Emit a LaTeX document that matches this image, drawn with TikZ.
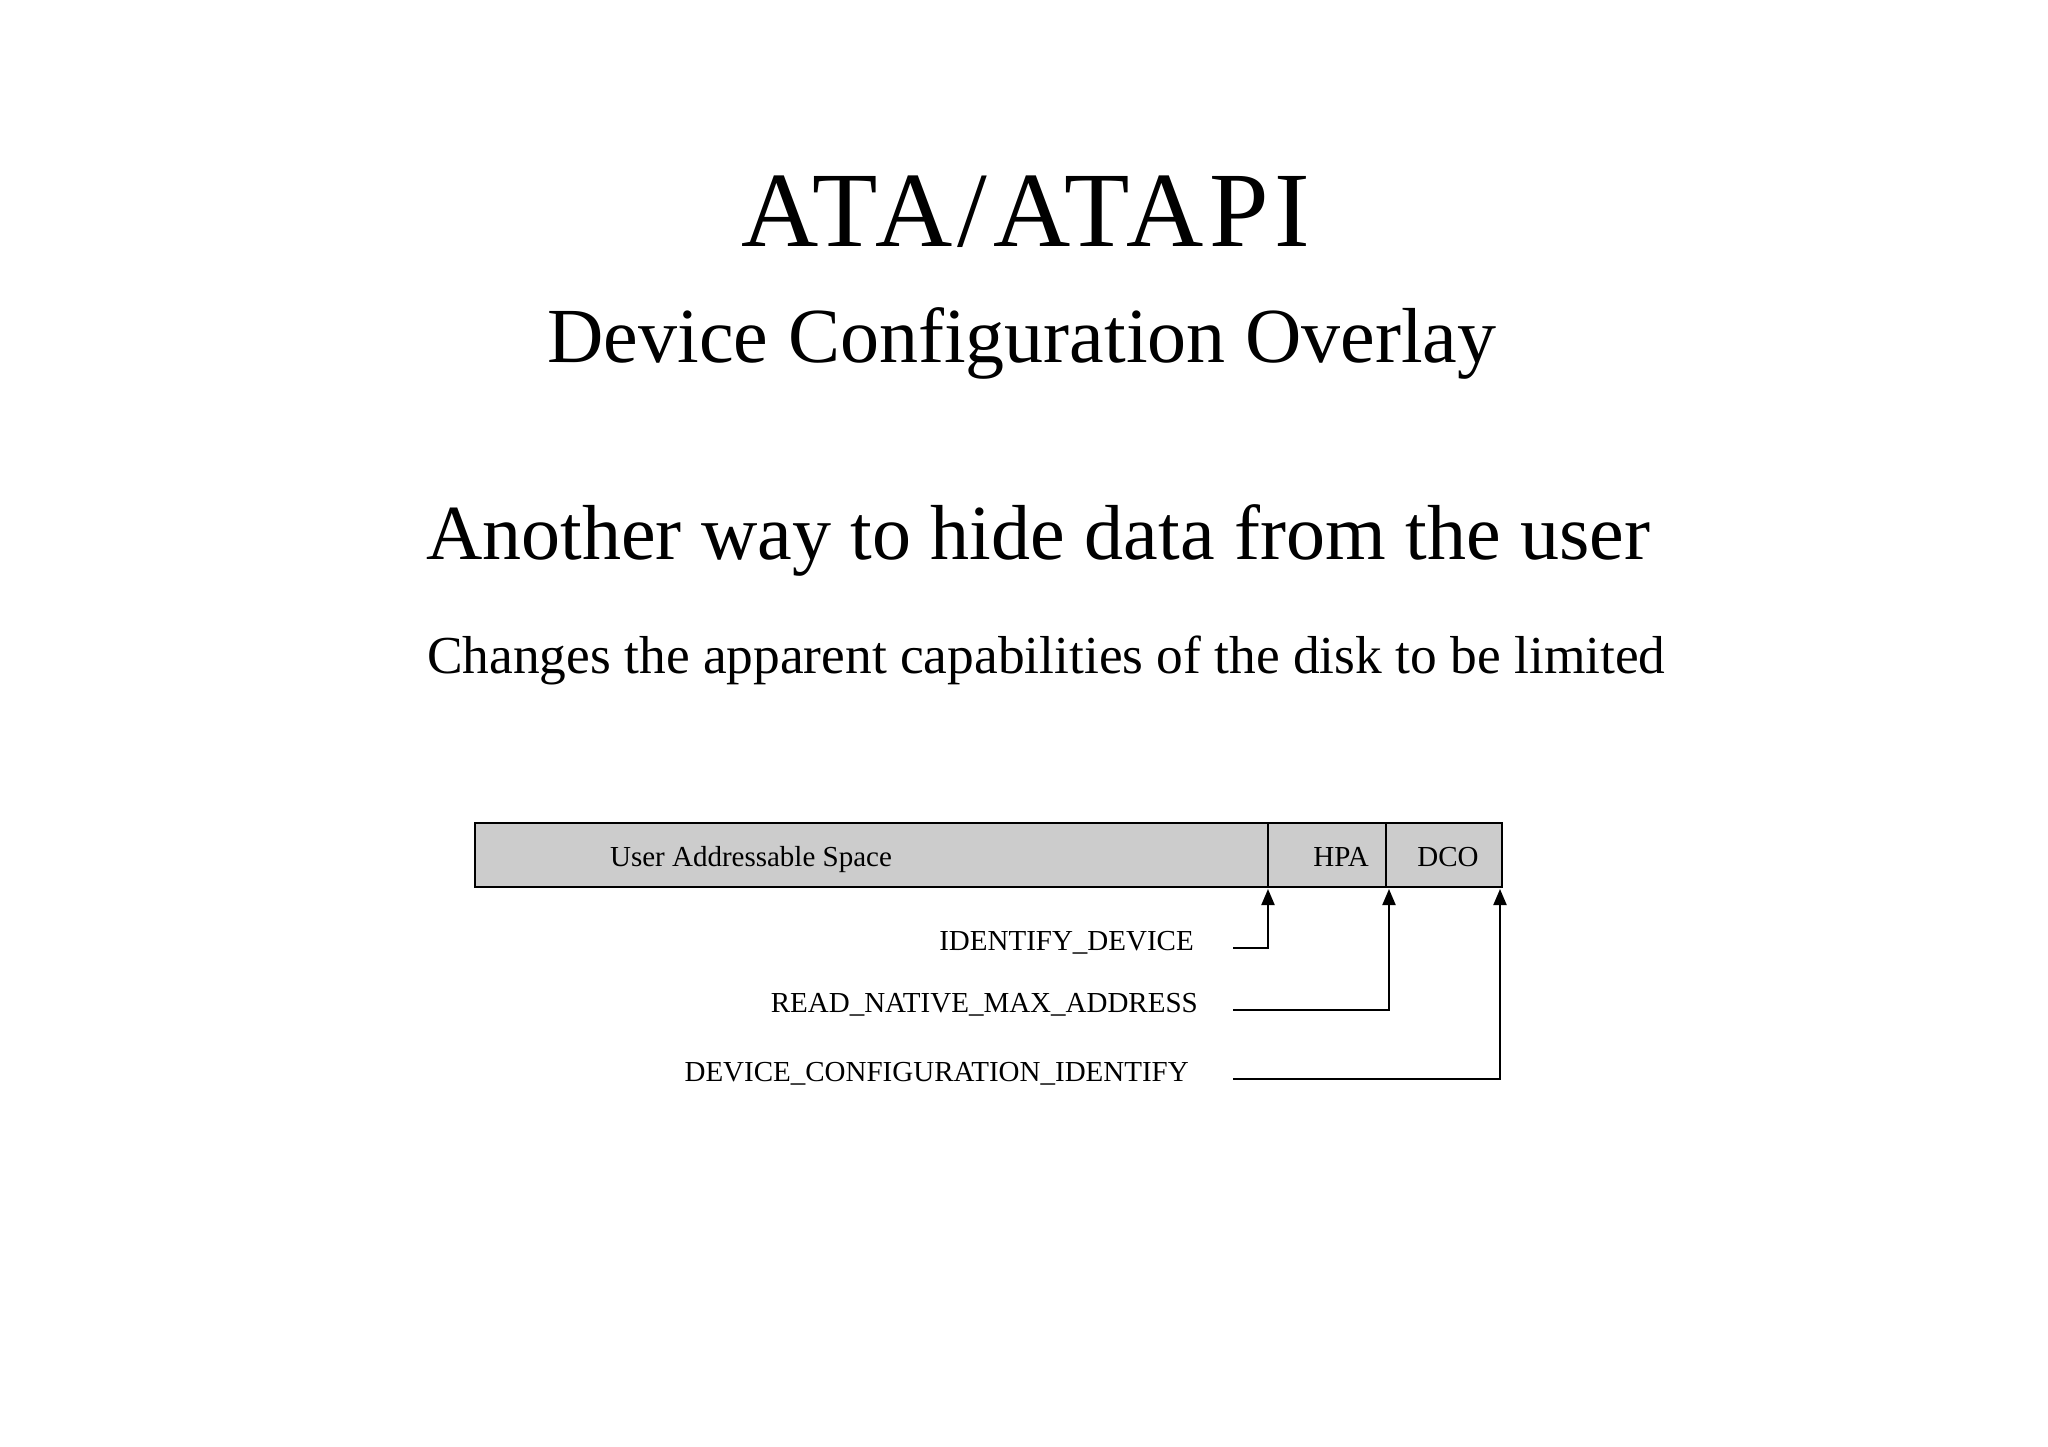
\documentclass[tikz,border=0pt]{standalone}
\usepackage{fontspec}
\setmainfont{Liberation Serif}
\usetikzlibrary{arrows.meta}
\tikzset{
  seg/.style={draw=black, line width=1.8pt, fill=barfill, minimum height=64pt, inner sep=0pt, outer sep=0pt, anchor=north west},
  small/.style={inner sep=0pt, font=\fontsize{29}{32}\selectfont},
  conn/.style={line width=2pt, -{Triangle[length=16pt,width=13pt]}}
}
\definecolor{barfill}{HTML}{CCCCCC}
\begin{document}
\begin{tikzpicture}[x=1pt,y=-1pt]
\useasboundingbox (0,0) rectangle (2048,1447);
\node[inner sep=0pt, anchor=base, font=\fontsize{107}{110}\selectfont] (title) at (1026,247) {\addfontfeature{LetterSpace=5.2}ATA/ATAPI};
\node[inner sep=0pt, anchor=base, font=\fontsize{78}{82}\selectfont] (sub) at (1022,362) {Device Configuration Overlay};
\node[inner sep=0pt, anchor=base west, font=\fontsize{78}{82}\selectfont] (another) at (426,559) {Another way to hide data from the user};
\node[inner sep=0pt, anchor=base west, font=\fontsize{53.4}{58}\selectfont] (changes) at (427,673) {Changes the apparent capabilities of the disk to be limited};

\node[seg, minimum width=793pt] (s1) at (475,823) {};
\node[seg, minimum width=118pt] (s2) at (1268,823) {};
\node[seg, minimum width=116pt] (s3) at (1386,823) {};
\node[small, anchor=base] (uas) at (751,866) {User Addressable Space};
\node[small, anchor=base] (hpa) at (1341,866) {HPA};
\node[small, anchor=base] (dco) at (1448,866) {DCO};

\node[small, anchor=base east] (l1) at (1194,950) {IDENTIFY\_DEVICE};
\node[small, anchor=base east] (l2) at (1198,1012) {READ\_NATIVE\_MAX\_ADDRESS};
\node[small, anchor=base east] (l3) at (1189,1081) {DEVICE\_CONFIGURATION\_IDENTIFY};

\coordinate (c1) at (1233,948);
\coordinate (c2) at (1233,1010);
\coordinate (c3) at (1233,1079);
\draw[conn] (c1) -| ([yshift=-2pt]s1.south east);
\draw[conn] (c2) -| ([xshift=3pt,yshift=-2pt]s2.south east);
\draw[conn] (c3) -| ([xshift=-2pt,yshift=-2pt]s3.south east);
\end{tikzpicture}
\end{document}
